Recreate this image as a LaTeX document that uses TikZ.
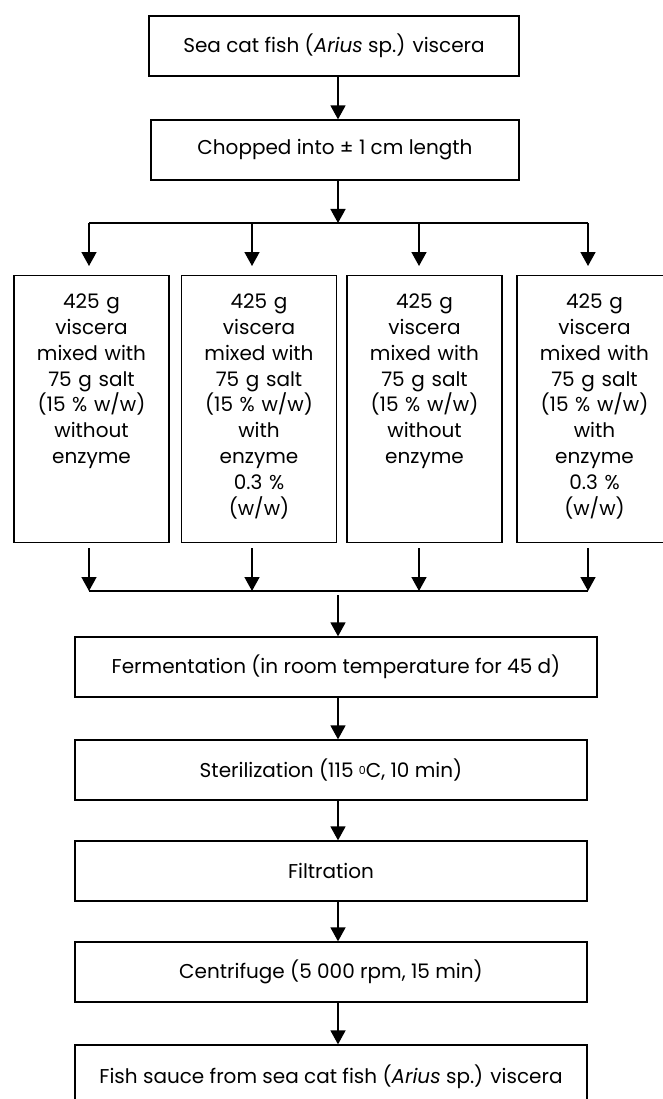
\documentclass[tikz,border=0pt]{standalone}
\usepackage{fontspec}
\setmainfont{Poppins}
\usetikzlibrary{positioning, arrows.meta, calc}
\tikzset{
  stepbox/.style={draw, rectangle, line width=1.3pt, minimum height=60pt,
                  inner sep=0pt, align=center, font=\fontsize{20}{26}\selectfont},
  mixbox/.style ={draw, rectangle, line width=1.3pt, anchor=north,
                  text width=151pt, align=center, inner xsep=2pt, inner ysep=0pt,
                  text height=33pt, text depth=234pt, font=\fontsize{20}{25.8}\selectfont},
  flow/.style   ={line width=1.6pt, -{Triangle[width=15pt,length=14pt]}},
  wire/.style   ={line width=1.3pt}
}
\newcommand{\smalldeg}{\raisebox{3pt}{\fontsize{11}{11}\selectfont 0}}

\begin{document}
\begin{tikzpicture}[x=1pt, y=1pt]
  \useasboundingbox (0,0) rectangle (663,-1099);
  \coordinate (spine) at (338,0);

  \node[stepbox, minimum width=370pt] (sea)  at (334,-46)  {Sea cat fish (\textit{Arius} sp.) viscera};
  \node[stepbox, minimum width=368pt] (chop) at (335,-150) {Chopped into ± 1 cm length};

  \node[mixbox] (mixA) at (91.5,-275)  {425 g\\viscera\\mixed with\\75 g salt\\(15 \% w/w)\\without\\enzyme};
  \node[mixbox] (mixB) at (259,-275)   {425 g\\viscera\\mixed with\\75 g salt\\(15 \% w/w)\\with\\enzyme\\0.3 \%\\(w/w)};
  \node[mixbox] (mixC) at (424.5,-275) {425 g\\viscera\\mixed with\\75 g salt\\(15 \% w/w)\\without\\enzyme};
  \node[mixbox] (mixD) at (594.5,-275) {425 g\\viscera\\mixed with\\75 g salt\\(15 \% w/w)\\with\\enzyme\\0.3 \%\\(w/w)};

  \node[stepbox, minimum width=522pt] (ferment) at (336,-667) {Fermentation (in room temperature for 45 d)};
  \node[stepbox, minimum width=512pt] (steril)  at (331,-770) {Sterilization (115 \smalldeg C, 10 min)};
  \node[stepbox, minimum width=512pt] (filter)  at (331,-871) {Filtration};
  \node[stepbox, minimum width=512pt] (centri)  at (331,-972) {Centrifuge (5 000 rpm, 15 min)};
  \node[stepbox, minimum width=512pt, minimum height=64pt] (sauce) at (331,-1077)
       {Fish sauce from sea cat fish (\textit{Arius} sp.) viscera};

  % split into four batches
  \coordinate (inA) at (89,-223);
  \coordinate (inB) at (252,-223);
  \coordinate (inC) at (419,-223);
  \coordinate (inD) at (588,-223);
  \draw[flow] (sea.south -| spine) -- (chop.north -| spine);
  \draw[flow] (chop.south -| spine) -- (inA -| spine);
  \draw[wire] (inA) -- (inD);
  \foreach \m in {A,B,C,D}
    \draw[flow, shorten >=9pt] (in\m) -- (in\m |- mix\m.north);

  % batches back together
  \coordinate (outA) at (89,-591);
  \coordinate (outB) at (252,-591);
  \coordinate (outC) at (419,-591);
  \coordinate (outD) at (588,-591);
  \foreach \m in {A,B,C,D}
    \draw[flow, shorten <=5pt] (out\m |- mix\m.south) -- (out\m);
  \draw[wire] (outA) -- (outD);
  \draw[flow, shorten <=4pt] (outA -| spine) -- (ferment.north -| spine);

  % processing chain
  \draw[flow] (ferment.south -| spine) -- (steril.north -| spine);
  \draw[flow] (steril.south -| spine) -- (filter.north -| spine);
  \draw[flow] (filter.south -| spine) -- (centri.north -| spine);
  \draw[flow] (centri.south -| spine) -- (sauce.north -| spine);
\end{tikzpicture}
\end{document}
